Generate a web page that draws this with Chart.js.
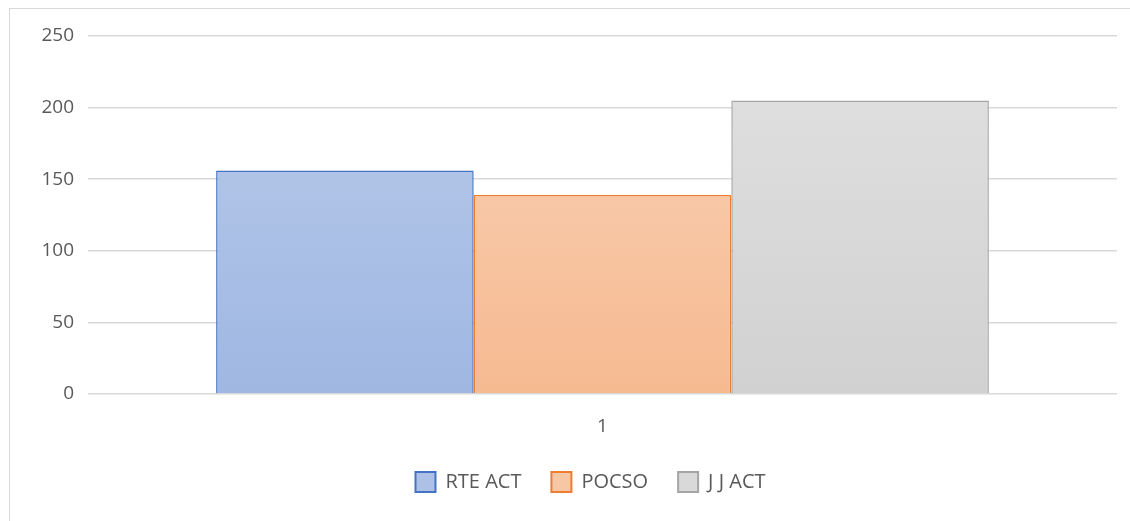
<!DOCTYPE html>
<html>
<head>
<meta charset="utf-8">
<script src="https://cdn.jsdelivr.net/npm/chart.js@4.4.1/dist/chart.umd.min.js"></script>
<style>
  html, body { margin: 0; padding: 0; background: #fff; }
  .frame { position: absolute; left: 9px; top: 8px; width: 1140px; height: 530px; border: 1px solid #d9d9d9; }
  .wrap { position: absolute; left: 0; top: 0; width: 1130px; height: 521px; }
</style>
</head>
<body>
<div class="frame"></div>
<div class="wrap"><canvas id="c" width="1130" height="521"></canvas></div>
<script>
// categories, series and ticks
const categories = ['1']
const seriesNames = ['RTE ACT', 'POCSO', 'J J ACT']
const rteAct = [156]
const pocso = [139]
const jjAct = [205]
const yTicks = [0, 50, 100, 150, 200, 250]

const colors = [
    { top: '#bacbea', bottom: '#9fb7e2', line: '#4472c4', flat: '#adc1e6' },
    { top: '#f9d2b7', bottom: '#f6ba91', line: '#ed7d31', flat: '#f7c6a4' },
    { top: '#e1e1e1', bottom: '#d1d1d1', line: '#a5a5a5', flat: '#d9d9d9' }
]

function gradientFor(c) {
    return (ctx) => {
        const area = ctx.chart.chartArea
        if (!area) return c.flat
        const g = ctx.chart.ctx.createLinearGradient(0, area.top, 0, area.bottom)
        g.addColorStop(0, c.top)
        g.addColorStop(1, c.bottom)
        return g
    }
}

const tickFont = { family: 'Open Sans', size: 19 }
const legendFont = { family: 'Open Sans', size: 20 }

const values = [rteAct, pocso, jjAct]
const datasets = seriesNames.map((name, i) => ({
    label: name,
    data: values[i],
    backgroundColor: gradientFor(colors[i]),
    borderColor: colors[i].line,
    borderWidth: 1.5,
    barPercentage: 1,
    categoryPercentage: 0.751
}))

// the original legend sits a bit right of the canvas centre
const shiftLegend = {
    id: 'shiftLegend',
    afterLayout(chart) {
        if (!chart.legend) return
        chart.legend.left += 32
        chart.legend.right += 32
    }
}

new Chart(document.getElementById('c'), {
    type: 'bar',
    data: { labels: categories, datasets: datasets },
    plugins: [shiftLegend],
    options: {
        responsive: false,
        animation: false,
        layout: { padding: { left: 0, right: 13, top: 36, bottom: 19 } },
        plugins: {
            tooltip: { enabled: false },
            legend: {
                position: 'bottom',
                labels: {
                    font: legendFont,
                    color: '#595959',
                    boxWidth: 20,
                    boxHeight: 20,
                    padding: 30,
                    generateLabels: (chart) => chart.data.datasets.map((ds, i) => ({
                        text: ds.label,
                        fillStyle: colors[i].flat,
                        strokeStyle: colors[i].line,
                        lineWidth: 2,
                        fontColor: '#595959',
                        datasetIndex: i
                    }))
                }
            }
        },
        scales: {
            x: {
                grid: { display: false },
                border: { display: false },
                ticks: { font: tickFont, color: '#595959', padding: 13 },
                afterFit: (axis) => { axis.height = 48 }
            },
            y: {
                min: 0,
                max: 250,
                afterBuildTicks: (axis) => { axis.ticks = yTicks.map(v => ({ value: v })) },
                afterFit: (axis) => { axis.width = 88 },
                grid: { color: '#d9d9d9', lineWidth: 1.5, drawTicks: false },
                border: { display: false },
                ticks: { font: tickFont, color: '#595959', padding: 14 }
            }
        }
    }
})
</script>
</body>
</html>
